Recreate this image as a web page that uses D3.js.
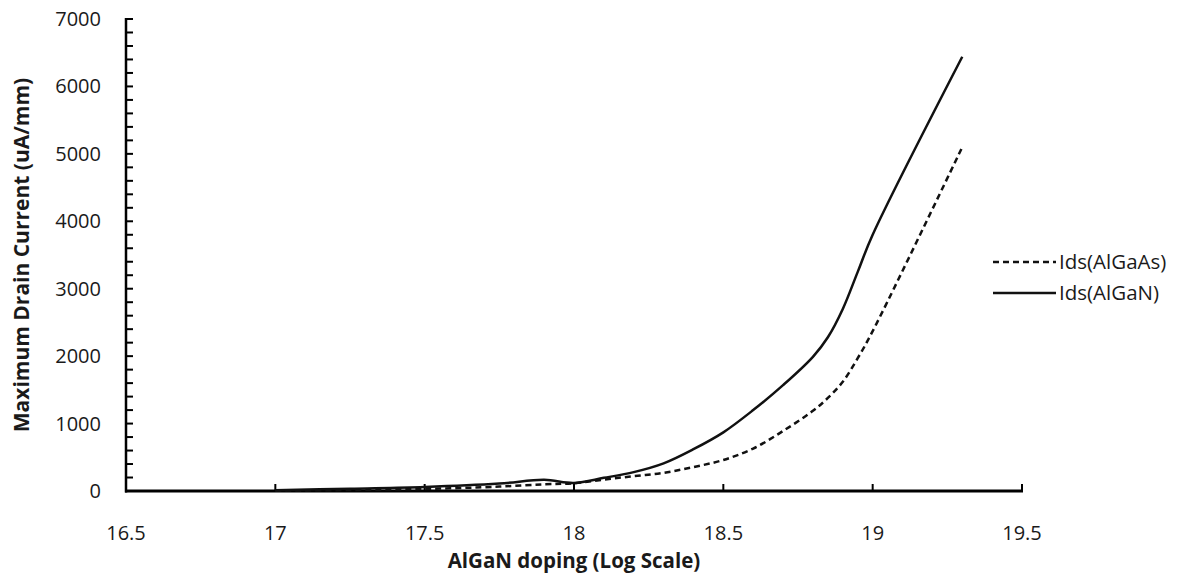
<!DOCTYPE html>
<html><head><meta charset="utf-8">
<script src="https://cdn.jsdelivr.net/npm/d3@7/dist/d3.min.js"></script>
<style>
html,body{margin:0;padding:0;background:#fff;}
text{font-family:"Open Sans","Noto Sans",sans-serif;}
</style></head>
<body>
<svg id="chart" width="1190" height="573"></svg>
<script>
const doping = [17, 17.25, 17.5, 17.75, 17.9, 18, 18.1, 18.2, 18.3, 18.4, 18.5, 18.6, 18.7, 18.8, 18.85, 18.9, 18.95, 19, 19.3];
const idsAlGaAs = [5, 15, 30, 65, 100, 115, 170, 220, 270, 355, 460, 630, 890, 1190, 1380, 1620, 1970, 2370, 5100];
const idsAlGaN = [10, 35, 60, 110, 165, 120, 195, 280, 410, 620, 870, 1200, 1570, 1990, 2280, 2700, 3250, 3800, 6440];
const xTicks = [16.5, 17, 17.5, 18, 18.5, 19, 19.5];
const yTicks = [0, 1000, 2000, 3000, 4000, 5000, 6000, 7000];
const yMinorTicks = d3.range(0, 7001, 200);
const seriesNames = ["Ids(AlGaAs)", "Ids(AlGaN)"];

const svg = d3.select("#chart");
const L = 126, R = 1022, T = 19, B = 491;
const x = d3.scaleLinear().domain([16.5, 19.5]).range([L, R]);
const y = d3.scaleLinear().domain([0, 7000]).range([B, T]);
const ink = "#1a1a1a";

// y axis
svg.append("g").selectAll("line").data(yMinorTicks).join("line")
  .attr("x1", L).attr("x2", L + 7).attr("y1", d => y(d)).attr("y2", d => y(d))
  .attr("stroke", "#000").attr("stroke-width", 2);
svg.append("line").attr("x1", L).attr("x2", L).attr("y1", y(7000) - 1).attr("y2", B + 1.5)
  .attr("stroke", "#000").attr("stroke-width", 2.5);
svg.append("g").selectAll("text").data(yTicks).join("text")
  .attr("x", 101).attr("y", d => y(d)).attr("dy", "0.35em")
  .attr("text-anchor", "end").attr("font-size", 20).attr("fill", ink).text(d => d);

// x axis
svg.append("g").selectAll("line").data(xTicks).join("line")
  .attr("x1", d => x(d)).attr("x2", d => x(d)).attr("y1", B).attr("y2", B - 7)
  .attr("stroke", "#000").attr("stroke-width", 2);
svg.append("line").attr("x1", L - 1).attr("x2", R + 1).attr("y1", B).attr("y2", B)
  .attr("stroke", "#000").attr("stroke-width", 3);
svg.append("g").selectAll("text").data(xTicks).join("text")
  .attr("x", d => x(d)).attr("y", 533).attr("dy", "0.35em")
  .attr("text-anchor", "middle").attr("font-size", 20).attr("fill", ink).text(d => d);

// lines
const line = d3.line().x((d, i) => x(doping[i])).y(d => y(d)).curve(d3.curveCatmullRom.alpha(0.5));
svg.append("path").datum(idsAlGaAs).attr("d", line).attr("fill", "none")
  .attr("stroke", "#111").attr("stroke-width", 2.5).attr("stroke-dasharray", "6,4");
svg.append("path").datum(idsAlGaN).attr("d", line).attr("fill", "none")
  .attr("stroke", "#111").attr("stroke-width", 2.5);

// axis titles
svg.append("text").attr("x", 574).attr("y", 561).attr("dy", "0.35em")
  .attr("text-anchor", "middle").attr("font-size", 20.5).attr("font-weight", "bold")
  .attr("fill", ink).text("AlGaN doping (Log Scale)");
svg.append("text").attr("transform", "translate(22,255) rotate(-90)").attr("dy", "0.35em")
  .attr("text-anchor", "middle").attr("font-size", 21).attr("font-weight", "bold")
  .attr("fill", ink).text("Maximum Drain Current (uA/mm)");

// legend
const lg = svg.append("g");
const legendRows = [{name: seriesNames[0], dash: "6,4", y: 262}, {name: seriesNames[1], dash: null, y: 293}];
legendRows.forEach(r => {
  lg.append("line").attr("x1", 993).attr("x2", 1056).attr("y1", r.y).attr("y2", r.y)
    .attr("stroke", "#111").attr("stroke-width", 2.5).attr("stroke-dasharray", r.dash);
  lg.append("text").attr("x", 1059).attr("y", r.y).attr("dy", "0.35em")
    .attr("font-size", 20.5).attr("fill", ink).text(r.name);
});
</script>
</body></html>
